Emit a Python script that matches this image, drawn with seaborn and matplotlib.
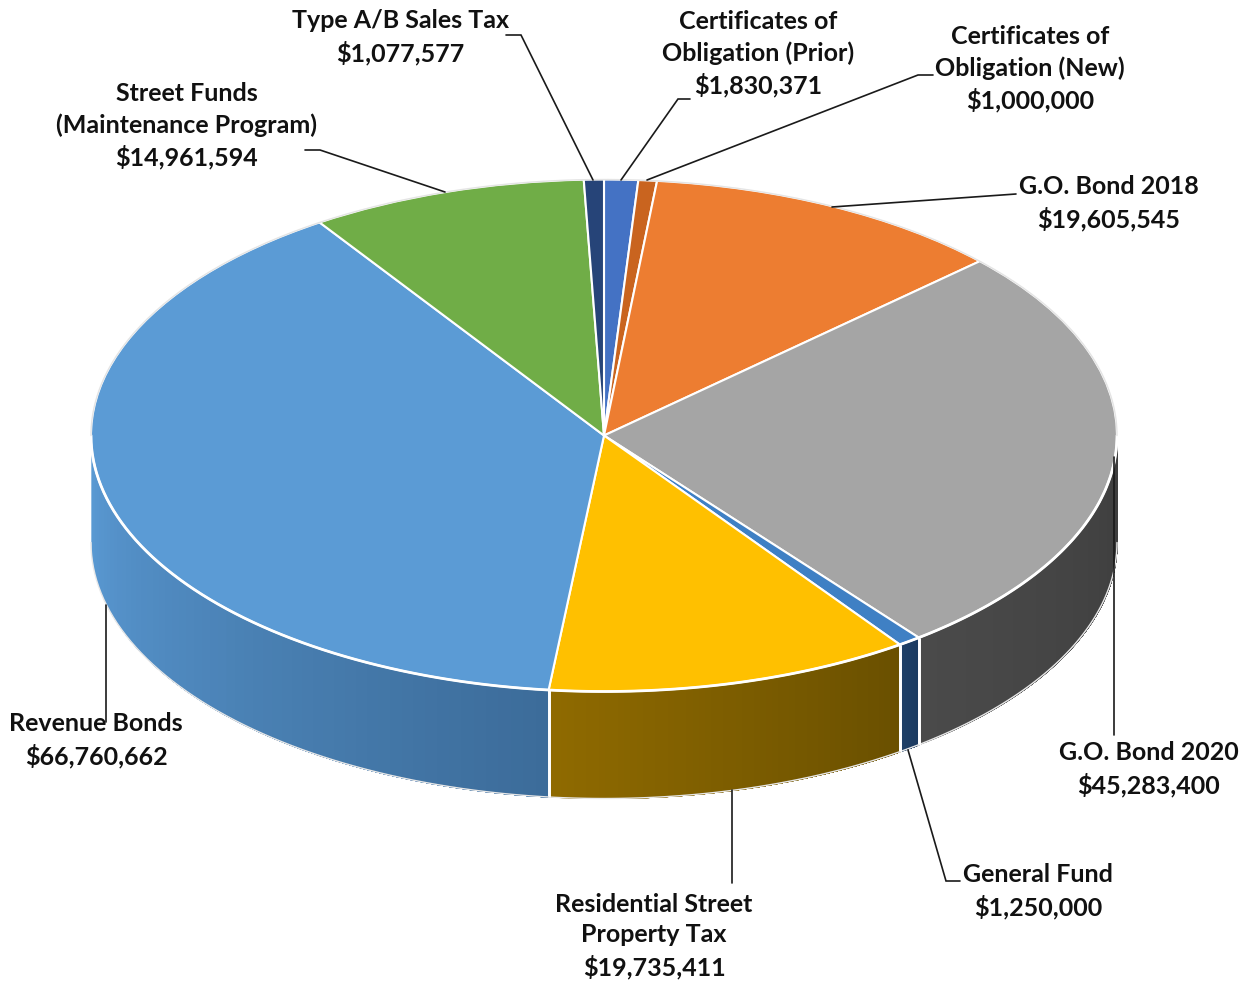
import numpy as np
import matplotlib
matplotlib.use("Agg")
import matplotlib.pyplot as plt
import matplotlib.colors as mc
import seaborn as sns

# ---- data (clockwise from 12 o'clock) ----
names = ["Certificates of\nObligation (Prior)", "Certificates of\nObligation (New)", "G.O. Bond 2018",
         "G.O. Bond 2020", "General Fund", "Residential Street\nProperty Tax", "Revenue Bonds",
         "Street Funds\n(Maintenance Program)", "Type A/B Sales Tax"]
amounts = [1830371, 1000000, 19605545, 45283400, 1250000, 19735411, 66760662, 14961594, 1077577]
top_colors = ["#4472c4", "#c9641f", "#ed7d31", "#a5a5a5", "#3f80c4", "#ffc000", "#5b9bd5", "#70ad47", "#264478"]
side_from = ["#2f5597", "#8a4a16", "#a85a24", "#4a4a4a", "#1f4068", "#8f6a00", "#5b9bd5", "#4e7a32", "#1a2f55"]
side_to = ["#2f5597", "#8a4a16", "#a85a24", "#3e3e3e", "#1b3a60", "#6a5000", "#3c6c9a", "#4e7a32", "#1a2f55"]

# label placement in reference pixels (centre x, centre y)
label_xy = [(758, 54), (1030, 69), (1109, 203), (1149, 769), (1038, 891), (654, 936), (96, 740), (187, 126), (400, 37)]
leaders = [
    [(690, 99), (678, 99), (621, 180)],
    [(933, 75), (918, 75), (647, 180)],
    [(1016, 194), (832, 207)],
    [(1114, 457), (1114, 735)],
    [(908, 750), (946, 881), (960, 881)],
    [(732, 790), (732, 883)],
    [(106, 605), (106, 722)],
    [(305, 150), (320, 150), (445, 192)],
    [(506, 35), (521, 35), (593, 180)],
]

W, H = 1248, 982
CX, CY, RX, RY, DEPTH = 604, 435.5, 513, 256, 107


def px(x, y):
    return (x - CX) / RX, (CY - y) / RY


sns.set_theme(style="white")
plt.rcParams["font.family"] = ["Lato", "DejaVu Sans"]
fig = plt.figure(figsize=(W / 100, H / 100), dpi=100, facecolor="white")
ax = fig.add_axes([0, 0, 1, 1])
palette = sns.color_palette(top_colors)

wedges, _ = ax.pie(amounts, colors=palette, startangle=90, counterclock=False, radius=1,
                   wedgeprops=dict(edgecolor="white", linewidth=1.5, zorder=5))
ax.set_aspect("auto")
ax.set_xlim(px(0, 0)[0], px(W, 0)[0])
ax.set_ylim(px(0, H)[1], px(0, 0)[1])
ax.axis("off")

d = DEPTH / RY
for w, c0, c1 in zip(wedges, side_from, side_to):
    t1, t2 = w.theta1 % 360, w.theta2 % 360
    if t2 <= t1:
        t2 += 360
    lo, hi = max(t1, 180), min(t2, 360)
    if hi <= lo:
        continue
    ts = np.radians(np.linspace(lo, hi, 60))
    a, b = np.array(mc.to_rgb(c0)), np.array(mc.to_rgb(c1))
    # each strip runs to the end of the slice and is painted over by the next,
    # so no antialiased seams show between strips
    for i in range(len(ts) - 1):
        col = a + (b - a) * i / (len(ts) - 2)
        seg = np.linspace(ts[i], ts[-1], 60)
        ax.fill_between(np.cos(seg), np.sin(seg), np.sin(seg) - d, color=col, linewidth=0, zorder=2)
    for t in (ts[0], ts[-1]):
        if 180.5 < np.degrees(t) < 359.5:
            ax.plot([np.cos(t)] * 2, [np.sin(t), np.sin(t) - d], color="white", lw=2, zorder=3,
                    solid_capstyle="butt")
    ax.plot(np.cos(ts), np.sin(ts) - d, color="#e8e8e8", lw=1, zorder=3)
    ax.plot(np.cos(ts), np.sin(ts), color="white", lw=2, zorder=6)

# faint outline of the far half of the disc
far = np.radians(np.linspace(0, 180, 200))
ax.plot(np.cos(far), np.sin(far), color="#e4e4e4", lw=1, zorder=6)

for pts in leaders:
    xs, ys = zip(*[px(*p) for p in pts])
    ax.plot(xs, ys, color="#1a1a1a", lw=1.2, zorder=6, solid_joinstyle="miter")

for name, amt, (lx, ly) in zip(names, amounts, label_xy):
    x, y = px(lx, ly)
    ax.text(x, y, f"{name}\n${amt:,}", ha="center", va="center", ma="center",
            fontsize=18, fontweight="bold", color="#111111", linespacing=1.41, zorder=7)

fig.savefig("out.png", dpi=100)
